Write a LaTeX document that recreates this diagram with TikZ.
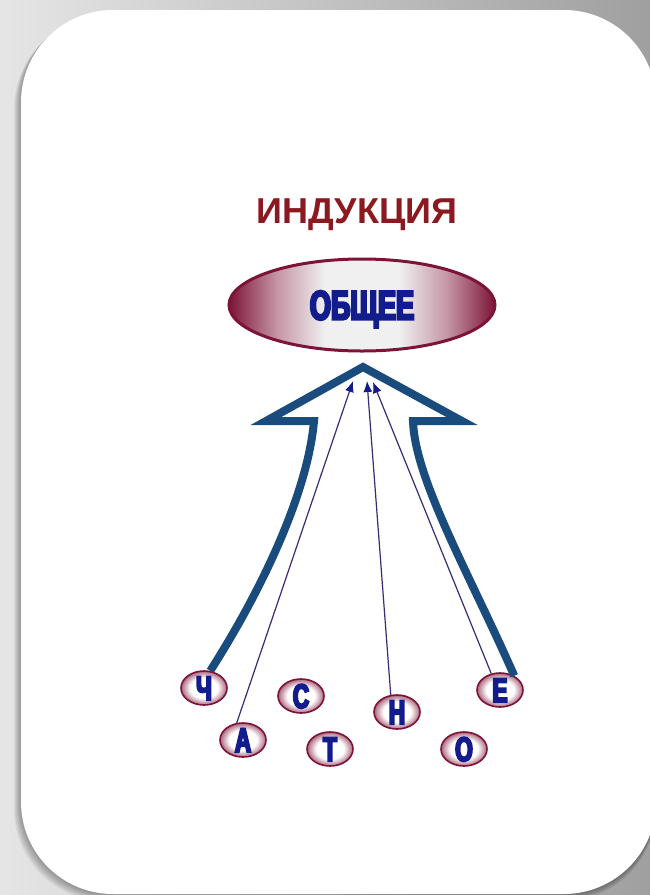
\documentclass[tikz,border=0pt]{standalone}
\usepackage{fontspec}
\setmainfont{Liberation Sans}
\newfontfamily\narrowfont[FakeStretch=0.66,FakeBold=6]{Liberation Sans Bold}
\usetikzlibrary{shapes.geometric,arrows.meta}

\definecolor{titlered}{RGB}{140,24,32}
\definecolor{ovalred}{RGB}{125,20,55}
\definecolor{letterblue}{RGB}{18,28,140}
\definecolor{arrowblue}{RGB}{25,75,125}
\definecolor{linenavy}{RGB}{55,45,115}

\pgfdeclarehorizontalshading{ovalfill}{100bp}{color(0bp)=(ovalred); color(25bp)=(ovalred); color(34bp)=(ovalred!45); color(43bp)=(white!94!black); color(57bp)=(white!94!black); color(66bp)=(ovalred!45); color(75bp)=(ovalred); color(100bp)=(ovalred)}
\pgfdeclareradialshading{letterfill}{\pgfpoint{0bp}{0bp}}{color(0bp)=(white); color(15bp)=(white); color(25bp)=(ovalred!65); color(50bp)=(ovalred!65)}

\tikzset{
  oval/.style={ellipse, draw=ovalred, line width=3pt, shade, shading=ovalfill,
    minimum width=266pt, minimum height=92pt, inner sep=0pt, text=letterblue,
    font={\narrowfont\fontsize{41pt}{41pt}\selectfont}, text height=29pt, text depth=0pt},
  letter/.style={ellipse, draw=ovalred, line width=1.6pt, shade, shading=letterfill,
    minimum width=46pt, minimum height=34pt, inner sep=0pt, text=letterblue,
    font={\narrowfont\fontsize{34pt}{34pt}\selectfont}, text height=24pt, text depth=0pt},
  heading/.style={anchor=base, text=titlered, font={\bfseries\fontsize{36pt}{36pt}\selectfont}},
  thinarrow/.style={draw=linenavy, line width=1.2pt, -{Latex[length=11pt,width=9pt,color=letterblue]}},
  bigarrow/.style={draw=arrowblue, line width=8pt}
}

\begin{document}
\begin{tikzpicture}[x=1pt,y=-1pt]
\useasboundingbox (0,0) rectangle (650,895);
\clip (0,0) rectangle (650,895);
\shade[left color=gray!20, right color=gray!75] (0,0) rectangle (650,895);
% card and its shadow
\foreach \s in {1,...,7}
  \fill[black, opacity=.05, rounded corners=92pt] ({21-\s},{10+\s}) rectangle (656,{894+\s});
\fill[white, rounded corners=92pt] (21,10) rectangle (656,894);

\node[heading] (title) at (357,223) {ИНДУКЦИЯ};
\node[oval] (general) at (362,305) {ОБЩЕЕ};

\node[letter] (ch) at (204,688) {Ч};
\node[letter] (a) at (243,740) {А};
\node[letter] (s) at (301,696) {С};
\node[letter] (t) at (330,749) {Т};
\node[letter] (n) at (397,712) {Н};
\node[letter] (o) at (464,749) {О};
\node[letter] (e) at (500,690) {Е};

\coordinate (tipA) at (353,381);
\coordinate (tipN) at (367,381);
\coordinate (tipE) at (373,382);

% big outline arrow
\draw[bigarrow] (ch.70) .. controls (265,585) and (308,490) .. (314,421)
  -- (266,421) -- (363,367) -- (462,421) -- (413,421)
  .. controls (415,480) and (470,575) .. (e.45);

\draw[thinarrow] (a.110) -- (tipA);
\draw[thinarrow] (n.110) -- (tipN);
\draw[thinarrow] (e.118) -- (tipE);
\end{tikzpicture}
\end{document}
